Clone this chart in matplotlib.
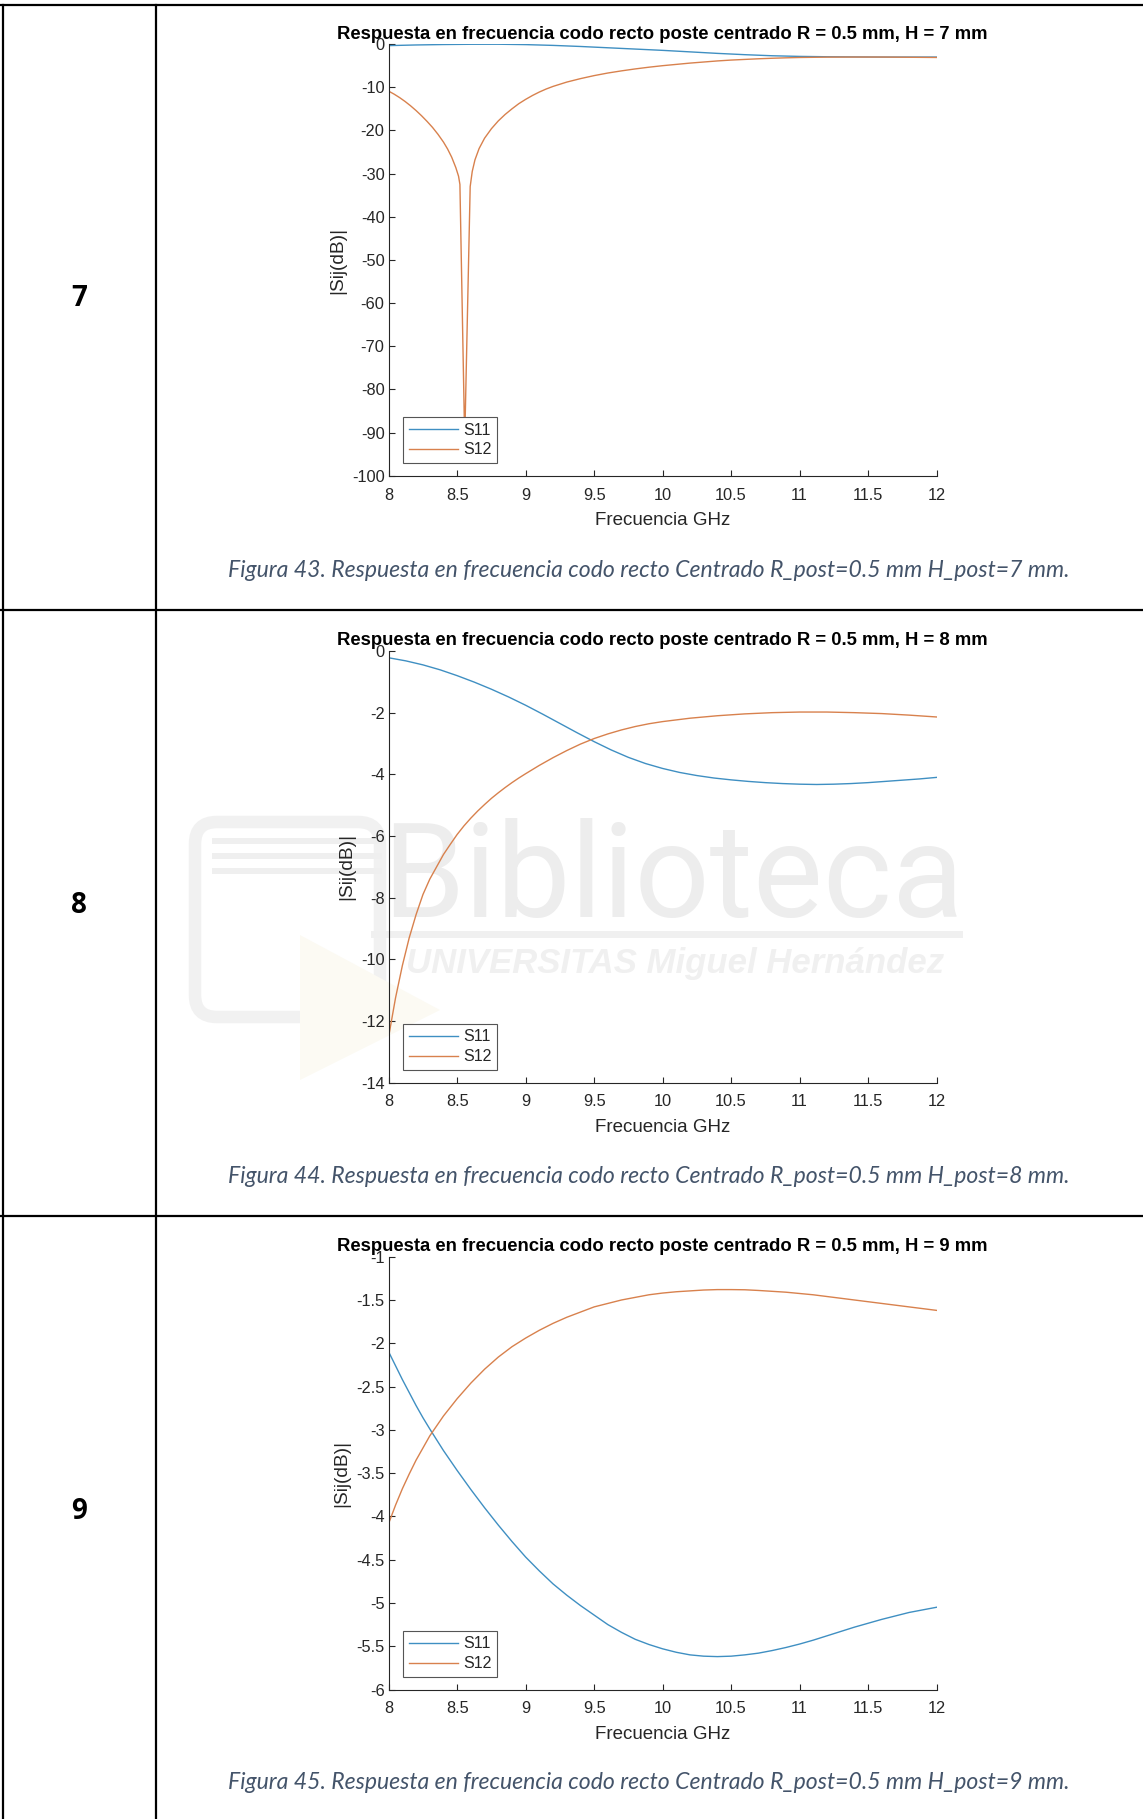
import numpy as np
import matplotlib.pyplot as plt
from matplotlib.patches import FancyBboxPatch, Rectangle, Polygon
from matplotlib.ticker import FuncFormatter

plt.rcParams['axes.unicode_minus'] = False

# ---- datos ----
numeros = ['7', '8', '9']
titulos = ['Respuesta en frecuencia codo recto poste centrado R = 0.5 mm, H = 7 mm',
           'Respuesta en frecuencia codo recto poste centrado R = 0.5 mm, H = 8 mm',
           'Respuesta en frecuencia codo recto poste centrado R = 0.5 mm, H = 9 mm']
leyendas = ['Figura 43. Respuesta en frecuencia codo recto Centrado R_post=0.5 mm H_post=7 mm.',
            'Figura 44. Respuesta en frecuencia codo recto Centrado R_post=0.5 mm H_post=8 mm.',
            'Figura 45. Respuesta en frecuencia codo recto Centrado R_post=0.5 mm H_post=9 mm.']

# H = 7 mm
f_s11_h7 = [8.0, 8.2, 8.4, 8.6, 8.8, 9.0, 9.2, 9.4, 9.6, 9.8, 10.0, 10.2, 10.4,
            10.6, 10.8, 11.0, 11.2, 11.4, 11.6, 11.8, 12.0]
s11_h7 = [-0.35, -0.2, -0.1, -0.04, -0.03, -0.12, -0.3, -0.55, -0.85, -1.15, -1.45,
          -1.8, -2.15, -2.45, -2.7, -2.85, -2.93, -2.97, -3.0, -3.0, -3.0]
f_s12_h7 = [8.0, 8.04, 8.08, 8.12, 8.16, 8.2, 8.24, 8.28, 8.32, 8.36, 8.4, 8.43,
            8.46, 8.49, 8.51, 8.52, 8.555, 8.595, 8.61, 8.63, 8.66, 8.7, 8.75, 8.8,
            8.85, 8.9, 8.95, 9.0, 9.05, 9.1, 9.15, 9.2, 9.3, 9.4, 9.5, 9.6, 9.7,
            9.8, 9.9, 10.0, 10.1, 10.2, 10.3, 10.4, 10.5, 10.6, 10.7, 10.8, 10.9,
            11.0, 11.2, 11.4, 11.6, 11.8, 12.0]
s12_h7 = [-10.9, -11.6, -12.4, -13.3, -14.3, -15.4, -16.6, -17.9, -19.3, -20.9,
          -22.7, -24.3, -26.2, -28.6, -30.6, -32.5, -92.0, -33.0, -29.5, -26.8,
          -24.2, -21.8, -19.6, -17.8, -16.3, -15.0, -13.8, -12.8, -11.9, -11.1,
          -10.4, -9.8, -8.8, -8.0, -7.3, -6.7, -6.2, -5.75, -5.35, -5.0, -4.7,
          -4.4, -4.15, -3.9, -3.7, -3.55, -3.4, -3.28, -3.18, -3.1, -3.02, -3.0,
          -3.0, -3.05, -3.1]

# H = 8 mm
f_s11_h8 = [8.0, 8.125, 8.25, 8.375, 8.5, 8.625, 8.75, 8.875, 9.0, 9.125, 9.25,
            9.375, 9.5, 9.625, 9.75, 9.875, 10.0, 10.125, 10.25, 10.375, 10.5,
            10.625, 10.75, 10.875, 11.0, 11.125, 11.25, 11.375, 11.5, 11.625,
            11.75, 11.875, 12.0]
s11_h8 = [-0.22, -0.32, -0.45, -0.61, -0.8, -1.01, -1.24, -1.49, -1.76, -2.05,
          -2.35, -2.65, -2.94, -3.21, -3.45, -3.65, -3.81, -3.94, -4.04, -4.12,
          -4.18, -4.23, -4.27, -4.3, -4.32, -4.33, -4.32, -4.3, -4.27, -4.23,
          -4.19, -4.15, -4.1]
f_s12_h8 = [8.0, 8.05, 8.1, 8.15, 8.2, 8.25, 8.3, 8.35, 8.4, 8.45, 8.5, 8.55, 8.6,
            8.65, 8.7, 8.75, 8.8, 8.85, 8.9, 8.95, 9.0, 9.1, 9.2, 9.3, 9.4, 9.5,
            9.6, 9.7, 9.8, 9.9, 10.0, 10.2, 10.4, 10.6, 10.8, 11.0, 11.2, 11.4,
            11.6, 11.8, 12.0]
s12_h8 = [-12.5, -11.25, -10.2, -9.3, -8.55, -7.9, -7.4, -7.0, -6.6, -6.27, -5.95,
          -5.67, -5.42, -5.19, -4.98, -4.78, -4.6, -4.43, -4.27, -4.12, -3.98,
          -3.71, -3.46, -3.23, -3.02, -2.84, -2.69, -2.56, -2.45, -2.36, -2.29,
          -2.18, -2.1, -2.04, -2.0, -1.98, -1.98, -2.0, -2.03, -2.08, -2.14]

# H = 9 mm
f_s11_h9 = [8.0, 8.05, 8.1, 8.15, 8.2, 8.25, 8.3, 8.4, 8.5, 8.6, 8.7, 8.8, 8.9,
            9.0, 9.1, 9.2, 9.3, 9.4, 9.5, 9.6, 9.7, 9.8, 9.9, 10.0, 10.1, 10.2,
            10.3, 10.4, 10.5, 10.6, 10.7, 10.8, 10.9, 11.0, 11.1, 11.2, 11.3,
            11.4, 11.5, 11.6, 11.7, 11.8, 11.9, 12.0]
s11_h9 = [-2.1, -2.26, -2.42, -2.57, -2.72, -2.86, -2.99, -3.24, -3.47, -3.69,
          -3.9, -4.1, -4.29, -4.47, -4.63, -4.78, -4.91, -5.03, -5.14, -5.25,
          -5.34, -5.42, -5.48, -5.53, -5.57, -5.6, -5.615, -5.62, -5.615, -5.6,
          -5.58, -5.55, -5.515, -5.475, -5.43, -5.38, -5.33, -5.28, -5.235,
          -5.19, -5.15, -5.11, -5.08, -5.05]
f_s12_h9 = [8.0, 8.05, 8.1, 8.15, 8.2, 8.25, 8.3, 8.4, 8.5, 8.6, 8.7, 8.8, 8.9,
            9.0, 9.1, 9.2, 9.3, 9.4, 9.5, 9.6, 9.7, 9.8, 9.9, 10.0, 10.1, 10.2,
            10.3, 10.4, 10.5, 10.6, 10.7, 10.8, 10.9, 11.0, 11.1, 11.2, 11.3,
            11.4, 11.5, 11.6, 11.7, 11.8, 11.9, 12.0]
s12_h9 = [-4.08, -3.87, -3.68, -3.51, -3.35, -3.21, -3.07, -2.84, -2.64, -2.46,
          -2.3, -2.16, -2.04, -1.94, -1.85, -1.77, -1.7, -1.64, -1.58, -1.54,
          -1.5, -1.47, -1.44, -1.42, -1.405, -1.395, -1.385, -1.38, -1.38,
          -1.382, -1.39, -1.4, -1.41, -1.425, -1.44, -1.46, -1.48, -1.5, -1.52,
          -1.54, -1.56, -1.58, -1.6, -1.62]

frec_s11 = [f_s11_h7, f_s11_h8, f_s11_h9]
datos_s11 = [s11_h7, s11_h8, s11_h9]
frec_s12 = [f_s12_h7, f_s12_h8, f_s12_h9]
datos_s12 = [s12_h7, s12_h8, s12_h9]
limites_y = [(-100, 0), (-14, 0), (-6, -1)]
paso_y = [10, 2, 0.5]
xticks = [8, 8.5, 9, 9.5, 10, 10.5, 11, 11.5, 12]

# ---- posiciones (pixeles) ----
W, H = 1143, 1819
ax_izq, ax_der = 388.7, 936.5
ax_arriba = [44.1, 651.0, 1256.7]
ax_abajo = [475.8, 1082.6, 1689.5]
titulo_y = [34.5, 640.3, 1246.0]
num_y = [299, 905, 1511]
leyenda_y = [570, 1176, 1782]
lineas_fila = [5, 610, 1216]

c11 = '#3f8fc2'
c12 = '#d8814d'
gris = '#262626'
fuente = 'Liberation Sans'

fig = plt.figure(figsize=(W / 100, H / 100), dpi=100)

# fondo en coordenadas de pixel
bg = fig.add_axes([0, 0, 1, 1], zorder=-1)
bg.set_xlim(0, W)
bg.set_ylim(H, 0)
bg.axis('off')

# marca de agua
bg.add_patch(FancyBboxPatch((195, 822), 185, 195, boxstyle='round,pad=0,rounding_size=22',
                            fill=False, edgecolor='#f1f1f1', lw=9))
for yy in [838, 853, 868]:
    bg.add_patch(Rectangle((212, yy), 170, 6, color='#efefef', lw=0))
bg.add_patch(Polygon([[300, 935], [300, 1080], [440, 1010]], color='#fcfaf3', lw=0))
bg.text(673, 917, 'Biblioteca', fontsize=95, family='Roboto', fontweight='normal',
        color='#ededed', ha='center', va='baseline')
bg.add_patch(Rectangle((371, 931), 592, 7, color='#f0f0f0', lw=0))
bg.text(675, 963, 'UNIVERSITAS Miguel Hernández', fontsize=25, family=fuente,
        fontweight='bold', style='italic', color='#f0f0f0', ha='center', va='center')

# lineas de la tabla
for yy in lineas_fila:
    bg.plot([0, W], [yy, yy], color='black', lw=1.6)
bg.plot([2.5, 2.5], [lineas_fila[0], H], color='black', lw=1.6)
bg.plot([155.5, 155.5], [lineas_fila[0], H], color='black', lw=1.6)

fmt = FuncFormatter(lambda v, p: f'{v:g}')

for i in range(3):
    bg.text(79, num_y[i], numeros[i], fontsize=20, family='Open Sans',
            fontweight='bold', ha='center', va='center')
    bg.text(649, leyenda_y[i], leyendas[i], fontsize=16.6, family='Lato', style='italic',
            color='#44546a', ha='center', va='center')
    bg.text((ax_izq + ax_der) / 2, titulo_y[i], titulos[i], fontsize=13.3, family=fuente,
            fontweight='bold', ha='center', va='center', color='black')

    ax = fig.add_axes([ax_izq / W, 1 - ax_abajo[i] / H, (ax_der - ax_izq) / W,
                       (ax_abajo[i] - ax_arriba[i]) / H])
    ax.patch.set_alpha(0)
    ax.plot(frec_s11[i], datos_s11[i], color=c11, lw=1.0, label='S11')
    ax.plot(frec_s12[i], datos_s12[i], color=c12, lw=1.0, label='S12')
    ax.set_xlim(8, 12)
    ax.set_ylim(*limites_y[i])
    ax.set_xticks(xticks)
    ax.set_yticks(np.arange(limites_y[i][0], limites_y[i][1] + paso_y[i] / 2, paso_y[i]))
    ax.xaxis.set_major_formatter(fmt)
    ax.yaxis.set_major_formatter(fmt)
    ax.spines['top'].set_visible(False)
    ax.spines['right'].set_visible(False)
    for s in ['left', 'bottom']:
        ax.spines[s].set_color(gris)
        ax.spines[s].set_linewidth(0.8)
    ax.tick_params(direction='in', length=4, width=0.8, color=gris, labelcolor=gris,
                   labelsize=11.8)
    ax.tick_params(axis='x', pad=8.5)
    ax.tick_params(axis='y', pad=3)
    for lab in ax.get_xticklabels() + ax.get_yticklabels():
        lab.set_family(fuente)
    ax.set_xlabel('Frecuencia GHz', fontsize=13.5, family=fuente, color=gris, labelpad=7)
    ax.set_ylabel('|Sij(dB)|', fontsize=13.8, family=fuente, color=gris, labelpad=4)
    leg = ax.legend(loc='lower left', bbox_to_anchor=(14.3 / (ax_der - ax_izq),
                                                       12.8 / (ax_abajo[i] - ax_arriba[i])),
                    borderaxespad=0, fancybox=False, framealpha=1, edgecolor='#555555',
                    prop={'family': fuente, 'size': 11.5}, handlelength=3.1,
                    handletextpad=0.3, labelspacing=0.3, borderpad=0.35)
    leg.get_frame().set_linewidth(0.8)
    for t in leg.get_texts():
        t.set_color(gris)

fig.savefig('out.png', dpi=100)
